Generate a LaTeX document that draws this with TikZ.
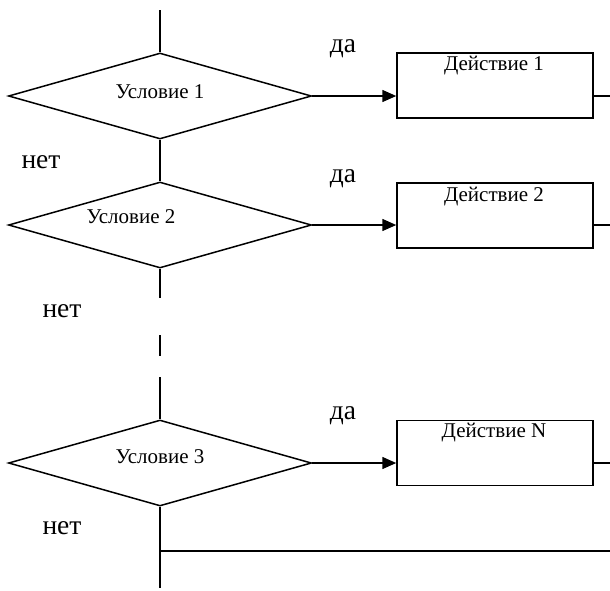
\documentclass[tikz,border=0pt]{standalone}
\usepackage{fontspec}
\setmainfont{Liberation Serif}
\usetikzlibrary{shapes.geometric,arrows.meta}

\begin{document}
\begin{tikzpicture}[x=1pt,y=-1pt,line width=1.5pt,
        cond/.style={draw,diamond,aspect=3.5,inner sep=0pt,minimum width=303pt,minimum height=86pt},
        act/.style={draw,rectangle,inner sep=0pt,minimum width=196pt,minimum height=65pt},
        lbl/.style={font=\fontsize{21}{23}\selectfont},
        ans/.style={font=\fontsize{27.5}{29}\selectfont},
        arr/.style={-{Triangle[length=14pt,width=12pt]}}]
            \useasboundingbox (0,0) rectangle (610,590);

            \node[cond] (c1) at (160,96) {};
            \node[cond] (c2) at (160,225) {};
            \node[cond] (c3) at (160,463) {};
            \node[act] (a1) at (495,85.5) {};
            \node[act] (a2) at (495,215.5) {};
            \node[act] (aN) at (495,453) {};

            \node[lbl] (t1) at (160,92) {Условие 1};
            \node[lbl] (t2) at (131,217) {Условие 2};
            \node[lbl] (t3) at (160,457) {Условие 3};
            \node[lbl] (d1) at (494,66) {Действие 1};
            \node[lbl] (d2) at (494,197) {Действие 2};
            \node[lbl] (dN) at (494,433) {Действие N};

            \node[ans] (y1) at (343,49) {да};
            \node[ans] (y2) at (343,179) {да};
            \node[ans] (y3) at (343,416) {да};
            \node[ans] (n1) at (41,162) {нет};
            \node[ans] (n2) at (62,311) {нет};
            \node[ans] (n3) at (62,528) {нет};

            \coordinate (top) at (160,10);
            \coordinate (gapa) at (160,298);
            \coordinate (gapb) at (160,335);
            \coordinate (gapc) at (160,356);
            \coordinate (gapd) at (160,377);
            \coordinate (bot) at (160,588);
            \coordinate (fork) at (160,551);
            \coordinate (end) at (610,551);

            \draw (top) -- (c1.north);
            \draw (c1.south) -- (c2.north);
            \draw (c2.south) -- (gapa);
            \draw (gapb) -- (gapc);
            \draw (gapd) -- (c3.north);
            \draw (c3.south) -- (bot);
            \draw (fork) -- (end);

            \draw[arr] (c1.east) -- (c1.east -| a1.west);
            \draw[arr] (c2.east) -- (c2.east -| a2.west);
            \draw[arr] (c3.east) -- (c3.east -| aN.west);
            \draw (c1.east -| a1.east) -- (c1.east -| end);
            \draw (c2.east -| a2.east) -- (c2.east -| end);
            \draw (c3.east -| aN.east) -- (c3.east -| end);
        \end{tikzpicture}
\end{document}
